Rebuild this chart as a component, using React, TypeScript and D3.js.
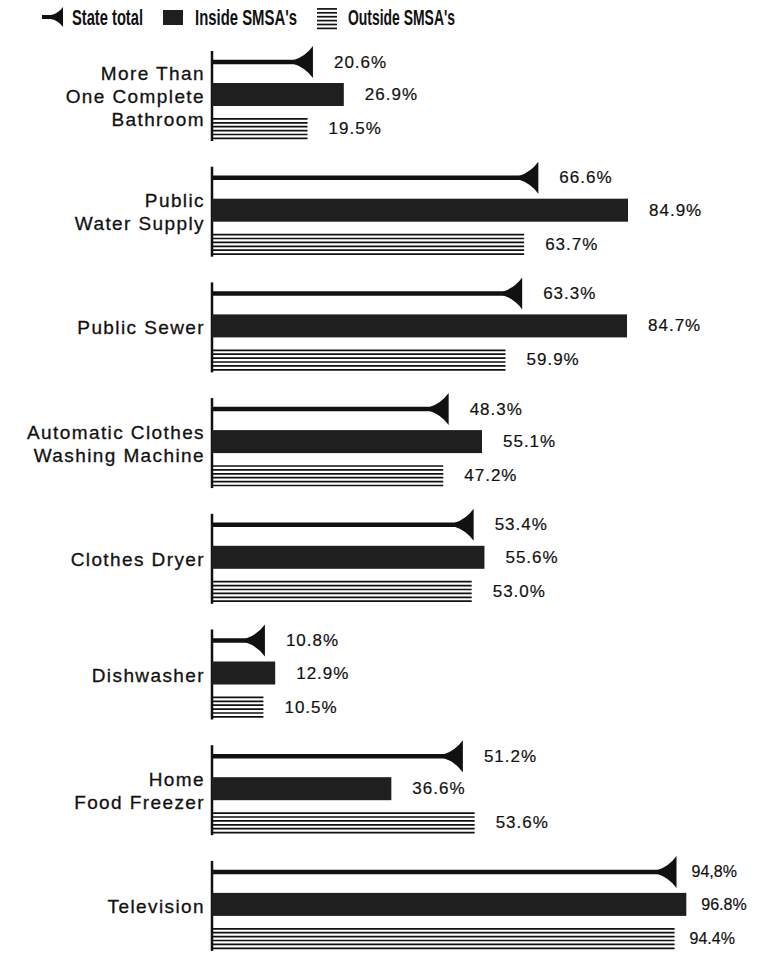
import React from "react";
import * as d3 from "d3";

const categories: string[][] = [
  ["More Than", "One Complete", "Bathroom"],
  ["Public", "Water Supply"],
  ["Public Sewer"],
  ["Automatic Clothes", "Washing Machine"],
  ["Clothes Dryer"],
  ["Dishwasher"],
  ["Home", "Food Freezer"],
  ["Television"],
];

const stateTotal = [20.6, 66.6, 63.3, 48.3, 53.4, 10.8, 51.2, 94.8];
const insideSMSA = [26.9, 84.9, 84.7, 55.1, 55.6, 12.9, 36.6, 96.8];
const outsideSMSA = [19.5, 63.7, 59.9, 47.2, 53.0, 10.5, 53.6, 94.4];

const stateLabels = ["20.6%", "66.6%", "63.3%", "48.3%", "53.4%", "10.8%", "51.2%", "94,8%"];
const insideLabels = ["26.9%", "84.9%", "84.7%", "55.1%", "55.6%", "12.9%", "36.6%", "96.8%"];
const outsideLabels = ["19.5%", "63.7%", "59.9%", "47.2%", "53.0%", "10.5%", "53.6%", "94.4%"];

const legendItems = ["State total", "Inside SMSA's", "Outside SMSA's"];

const W = 763;
const H = 955;

const x = d3.scaleLinear().domain([0, 100]).range([212, 702]);
const band = d3
  .scaleBand<number>()
  .domain(d3.range(categories.length))
  .range([52, 52 + 115.7 * categories.length])
  .paddingInner(0);

const labelFont = "'Liberation Sans', Arial, Helvetica, sans-serif";
const legendFont = "'Liberation Sans Narrow', 'Liberation Sans', Arial, sans-serif";
const ink = "#111";

function arrowPath(xv: number, y: number, w = 19, h = 16): string {
  const p = d3.path();
  p.moveTo(xv - w, y - 2);
  p.quadraticCurveTo(xv - w * 0.4, y - h * 0.35, xv, y - h);
  p.lineTo(xv, y + h);
  p.quadraticCurveTo(xv - w * 0.4, y + h * 0.35, xv - w, y + 2);
  p.closePath();
  return p.toString();
}

const hatchOffsets = d3.range(6).map((i) => i * 3.9 + 0.9);

function Hatch({ x0, x1, y0 }: { x0: number; x1: number; y0: number }) {
  return (
    <g>
      {hatchOffsets.map((o, i) => (
        <line key={i} x1={x0} x2={x1} y1={y0 + o} y2={y0 + o} stroke={ink} strokeWidth={1.7} />
      ))}
    </g>
  );
}

export default function App() {
  const x0 = x(0);
  return (
    <svg width={W} height={H} style={{ display: "block", position: "absolute", left: 0, top: 0, background: "#fff" }}>
      <rect x={0} y={0} width={W} height={H} fill="#fff" />
      {/* Legend */}
      <g>
        <line x1={42} x2={58} y1={17} y2={17} stroke={ink} strokeWidth={4} />
        <path d={arrowPath(63, 17, 12, 10)} fill={ink} />
        <text x={72} y={25} fontFamily={legendFont} fontWeight="bold" fontSize={22} fill={ink} textLength={71} lengthAdjust="spacingAndGlyphs">
          {legendItems[0]}
        </text>
        <rect x={163} y={10} width={20} height={15} fill="#1f1f1f" />
        <text x={195} y={25} fontFamily={legendFont} fontWeight="bold" fontSize={22} fill={ink} textLength={102} lengthAdjust="spacingAndGlyphs">
          {legendItems[1]}
        </text>
        <Hatch x0={317} x1={337} y0={8} />
        <text x={348} y={25} fontFamily={legendFont} fontWeight="bold" fontSize={22} fill={ink} textLength={107} lengthAdjust="spacingAndGlyphs">
          {legendItems[2]}
        </text>
      </g>

      {categories.map((lines, i) => {
        const top = band(i) as number;
        const yArrow = top + 10;
        const yIn0 = top + 31;
        const inH = 23;
        const yOut0 = top + 66;
        const outH = 21;
        const isLast = i === categories.length - 1;
        const gap = isLast ? 15 : 21;
        const valSize = isLast ? 16 : 17;
        const valSpacing = isLast ? 0 : 1;
        const labelCenter = yIn0 + inH / 2 + 2;
        const lh = 23;
        const firstY = labelCenter - ((lines.length - 1) * lh) / 2;
        return (
          <g key={i}>
            {/* category label */}
            <text
              x={205}
              textAnchor="end"
              fontFamily={labelFont}
              fontSize={19}
              letterSpacing={1.4}
              fill={ink}
              stroke={ink}
              strokeWidth={0.3}
            >
              {lines.map((ln, j) => (
                <tspan key={j} x={205} y={firstY + j * lh} dominantBaseline="central">
                  {ln}
                </tspan>
              ))}
            </text>

            {/* axis */}
            <line x1={x0} x2={x0} y1={top - 1} y2={top + 89} stroke={ink} strokeWidth={2.5} />

            {/* state total arrow */}
            <line x1={x0} x2={x(stateTotal[i]) - 8} y1={yArrow} y2={yArrow} stroke={ink} strokeWidth={4.5} />
            <path d={arrowPath(x(stateTotal[i]), yArrow)} fill={ink} />
            <text
              x={x(stateTotal[i]) + gap}
              y={yArrow}
              dominantBaseline="central"
              fontFamily={labelFont}
              fontSize={valSize}
              letterSpacing={valSpacing}
              fill={ink}
              stroke={ink}
              strokeWidth={0.2}
            >
              {stateLabels[i]}
            </text>

            {/* inside SMSA bar */}
            <rect x={x0} y={yIn0} width={x(insideSMSA[i]) - x0} height={inH} fill="#1f1f1f" />
            <text
              x={x(insideSMSA[i]) + gap}
              y={yIn0 + inH / 2}
              dominantBaseline="central"
              fontFamily={labelFont}
              fontSize={valSize}
              letterSpacing={valSpacing}
              fill={ink}
              stroke={ink}
              strokeWidth={0.2}
            >
              {insideLabels[i]}
            </text>

            {/* outside SMSA bar */}
            <Hatch x0={x0} x1={x(outsideSMSA[i])} y0={yOut0} />
            <text
              x={x(outsideSMSA[i]) + gap}
              y={yOut0 + outH / 2}
              dominantBaseline="central"
              fontFamily={labelFont}
              fontSize={valSize}
              letterSpacing={valSpacing}
              fill={ink}
              stroke={ink}
              strokeWidth={0.2}
            >
              {outsideLabels[i]}
            </text>
          </g>
        );
      })}
    </svg>
  );
}
